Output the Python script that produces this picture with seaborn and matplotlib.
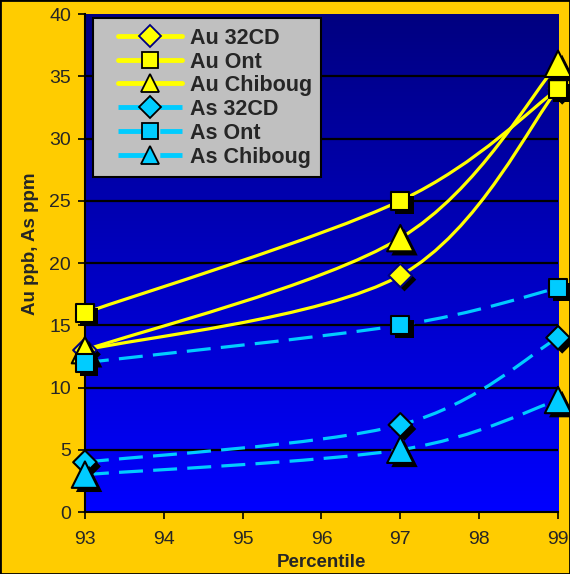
import numpy as np
import pandas as pd
import seaborn as sns
import matplotlib
matplotlib.use("Agg")
import matplotlib.pyplot as plt
from matplotlib.path import Path
from matplotlib.patches import PathPatch
from matplotlib.lines import Line2D
from matplotlib.colors import LinearSegmentedColormap
from matplotlib.legend_handler import HandlerLine2D
import matplotlib.patheffects as pe

percentile = [93, 97, 99]
au_32cd = [13, 19, 34]
au_ont = [16, 25, 34]
au_chiboug = [13, 22, 36]
as_32cd = [4, 7, 14]
as_ont = [12, 15, 18]
as_chiboug = [3, 5, 9]

series_names = ["Au 32CD", "Au Ont", "Au Chiboug", "As 32CD", "As Ont", "As Chiboug"]
series_values = [au_32cd, au_ont, au_chiboug, as_32cd, as_ont, as_chiboug]
y_ticks = [0, 5, 10, 15, 20, 25, 30, 35, 40]
x_ticks = [93, 94, 95, 96, 97, 98, 99]

YEL = "#FFFF00"
CYA = "#00CCFF"
BG = "#FFCC00"

styles = {
    "Au 32CD": dict(color=YEL, marker="D", ms=12, mec="#000080", dash=False),
    "Au Ont": dict(color=YEL, marker="s", ms=13, mec="black", dash=False),
    "Au Chiboug": dict(color=YEL, marker="^", ms=19, mec="black", dash=False),
    "As 32CD": dict(color=CYA, marker="D", ms=12, mec="black", dash=True),
    "As Ont": dict(color=CYA, marker="s", ms=13, mec="black", dash=True),
    "As Chiboug": dict(color=CYA, marker="^", ms=19, mec="black", dash=True),
}

rows = []
for name, vals in zip(series_names, series_values):
    for x, v in zip(percentile, vals):
        rows.append(dict(series=name, percentile=x, value=v))
df = pd.DataFrame(rows)

sns.set_style("white")
plt.rcParams["font.family"] = ["Liberation Sans", "DejaVu Sans"]

fig = plt.figure(figsize=(5.70, 5.74), dpi=100, facecolor=BG)
ax = fig.add_axes([0.149, 0.108, 0.83, 0.8676])
ax.set_xlim(93, 99)
ax.set_ylim(0, 40)

# gradient background
grad = np.linspace(0, 1, 256).reshape(-1, 1)
cmap = LinearSegmentedColormap.from_list("bg", ["#0000FF", "#000080"])
ax.imshow(grad, extent=[93, 99, 0, 40], origin="lower", aspect="auto", cmap=cmap, zorder=0)

for yv in y_ticks[1:-1]:
    ax.axhline(yv, color="black", lw=1.6, zorder=1)


def smooth_path(xs, ys):
    pts = np.column_stack([xs, ys]).astype(float)
    n = len(pts)
    verts = [pts[0]]
    codes = [Path.MOVETO]
    for i in range(n - 1):
        p0 = pts[i - 1] if i > 0 else pts[i]
        p1 = pts[i]
        p2 = pts[i + 1]
        p3 = pts[i + 2] if i + 2 < n else pts[i + 1]
        c1 = p1 + (p2 - p0) / 6.0
        c2 = p2 - (p3 - p1) / 6.0
        verts += [c1, c2, p2]
        codes += [Path.CURVE4] * 3
    return Path(verts, codes)


for name in series_names:
    st = styles[name]
    sub = df[df.series == name]
    patch = PathPatch(smooth_path(sub.percentile.values, sub.value.values),
                      fill=False, edgecolor=st["color"], lw=2.3,
                      linestyle=(0, (7.5, 3.2)) if st["dash"] else "-",
                      capstyle="butt", zorder=3, clip_on=False)
    ax.add_patch(patch)

shadow = [pe.SimplePatchShadow(offset=(3, -3), shadow_rgbFace="black", alpha=1.0), pe.Normal()]
for name in series_names:
    st = styles[name]
    sub = df[df.series == name]
    sns.scatterplot(data=sub, x="percentile", y="value", ax=ax, marker=st["marker"],
                    s=st["ms"] ** 2, color=st["color"], edgecolor=st["mec"], linewidth=1.5,
                    zorder=5, clip_on=False, legend=False)
    ax.collections[-1].set_path_effects(shadow)

ax.set_xticks(x_ticks)
ax.set_yticks(y_ticks)
ax.tick_params(axis="both", labelsize=14, length=5, width=1.2, color="black", direction="out",
               bottom=True, left=True, pad=5)
ax.tick_params(axis="x", pad=9)
ax.set_xlabel("Percentile", fontsize=13.5, fontweight="bold")
ax.set_ylabel("Au ppb, As ppm", fontsize=13.5, fontweight="bold")
ax.xaxis.set_label_coords(0.5, -0.085)
ax.yaxis.set_label_coords(-0.097, 0.538)
for s in ["top", "right"]:
    ax.spines[s].set_visible(False)
ax.spines["left"].set_color("black")
ax.spines["left"].set_linewidth(1.5)
ax.spines["bottom"].set_color("black")
ax.spines["bottom"].set_linewidth(1.5)


class InsetHandler(HandlerLine2D):
    def get_xdata(self, legend, xdescent, ydescent, width, height, fontsize):
        xdata, xm = super().get_xdata(legend, xdescent, ydescent, width, height, fontsize)
        xdata = np.array(xdata, dtype=float)
        xdata[0] += 11
        return xdata, (xdata[0] + xdata[-1]) / 2 * np.ones_like(np.atleast_1d(xm))


handles = []
for name in series_names:
    st = styles[name]
    handles.append(Line2D([], [], color=st["color"], lw=3.5,
                          linestyle=(0, (6.0, 2.6)) if st["dash"] else "-",
                          marker=st["marker"], markersize=11 if st["marker"] != "^" else 13,
                          markerfacecolor=st["color"], markeredgecolor=st["mec"], markeredgewidth=1.3))
leg = ax.legend(handles, series_names, loc="upper left", bbox_to_anchor=(0.017, 0.992),
                prop=dict(size=15.5, weight="bold"), frameon=True, fancybox=False,
                facecolor="#C0C0C0", edgecolor="black", framealpha=1, handlelength=3.7,
                handleheight=0.9, labelspacing=0.11, borderpad=0.45, borderaxespad=0,
                handletextpad=0.34, handler_map={Line2D: InsetHandler()})
leg.get_frame().set_linewidth(1.5)
leg.set_zorder(10)

fig.patches.append(plt.Rectangle((0, 0), 1, 1, transform=fig.transFigure, fill=False,
                                 edgecolor="black", lw=2, zorder=100))

fig.savefig("out.png", dpi=100, facecolor=BG)
